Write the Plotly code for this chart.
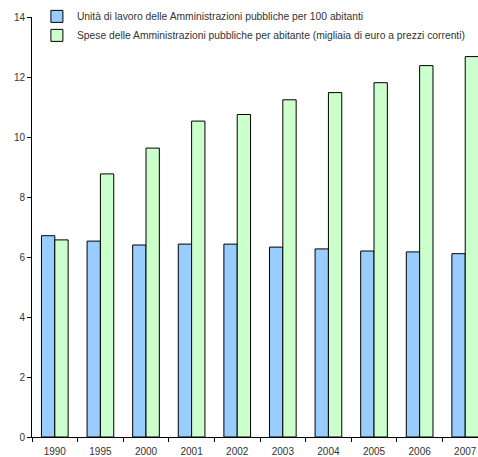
import plotly.graph_objects as go

years = ["1990", "1995", "2000", "2001", "2002", "2003", "2004", "2005", "2006", "2007"]
unita_lavoro = [6.71, 6.53, 6.40, 6.43, 6.43, 6.33, 6.27, 6.20, 6.17, 6.11]
spese = [6.57, 8.77, 9.63, 10.53, 10.75, 11.24, 11.48, 11.81, 12.38, 12.68]

name1 = "Unità di lavoro delle Amministrazioni pubbliche per 100 abitanti"
name2 = "Spese delle Amministrazioni pubbliche per abitante (migliaia di euro a prezzi correnti)"

fig = go.Figure()
fig.add_trace(go.Bar(x=years, y=unita_lavoro, name=name1,
                     marker=dict(color="#99CCFF", line=dict(color="#000000", width=1))))
fig.add_trace(go.Bar(x=years, y=spese, name=name2,
                     marker=dict(color="#CCFFCC", line=dict(color="#000000", width=1))))

fig.update_layout(
    width=478, height=457,
    margin=dict(l=32, r=0, t=17, b=20, autoexpand=False),
    paper_bgcolor="white", plot_bgcolor="white",
    barmode="group", bargap=0.415, bargroupgap=0,
    font=dict(family="Liberation Sans, Arial, sans-serif", size=10, color="#333333"),
    showlegend=True,
    legend=dict(x=0.011, y=1.036, xanchor="left", yanchor="top",
                bgcolor="rgba(0,0,0,0)", font=dict(size=10.3, color="#333333"),
                itemwidth=30, tracegroupgap=0),
    xaxis=dict(range=[-0.5, 9.28], showline=True, linecolor="black", linewidth=1,
               ticks="outside", tickson="boundaries", ticklen=4, tickcolor="black",
               ticklabelstandoff=5, ticklabeloverflow="allow",
               showgrid=False, tickfont=dict(size=10, color="#333333"), fixedrange=True),
    yaxis=dict(range=[0, 14], dtick=2, showline=True, linecolor="black", linewidth=1,
               ticks="outside", ticklen=4, tickcolor="black", showgrid=False,
               zeroline=False, tickfont=dict(size=10, color="#333333"), fixedrange=True),
)

fig.write_html(
    "out.html",
    config={"displayModeBar": False},
    post_script="document.body.style.margin='0';document.body.style.overflow='hidden';",
)
